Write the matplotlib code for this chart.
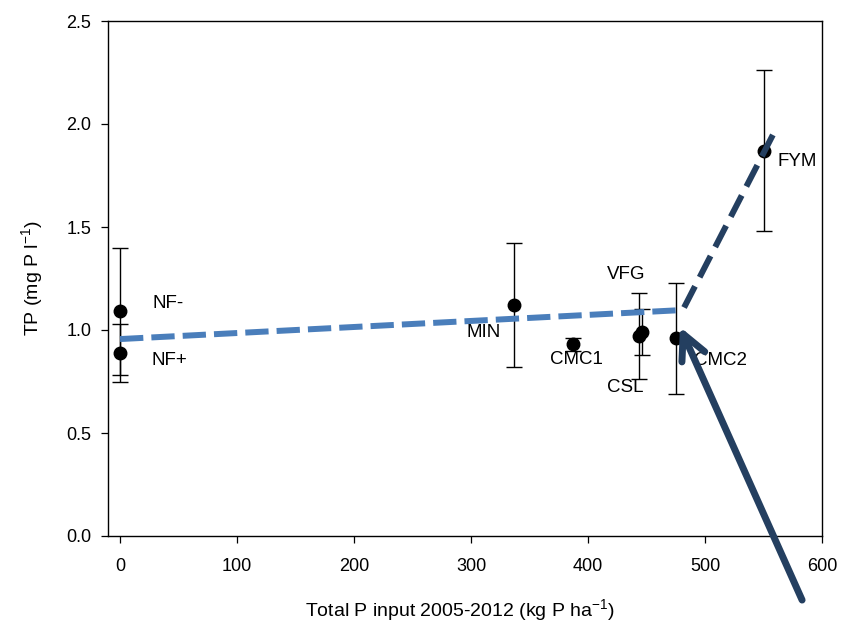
import matplotlib
matplotlib.use("Agg")
import matplotlib.pyplot as plt

plt.rcParams['font.family'] = ['Liberation Sans', 'DejaVu Sans']
plt.rcParams['mathtext.fontset'] = 'custom'
plt.rcParams['mathtext.rm'] = 'Liberation Sans'
plt.rcParams['mathtext.it'] = 'Liberation Sans:italic'
plt.rcParams['mathtext.bf'] = 'Liberation Sans:bold'

# Treatments: total P input (kg P/ha) vs mean TP concentration (mg P/l) with SD
treatments = ["NF-", "NF+", "MIN", "CMC1", "VFG", "CSL", "CMC2", "FYM"]
p_input = [0, 0, 337, 387, 446, 444, 475, 550]
tp_mean = [1.09, 0.89, 1.12, 0.93, 0.99, 0.97, 0.96, 1.87]
tp_err = [0.31, 0.14, 0.30, 0.03, 0.11, 0.21, 0.27, 0.39]

# Label anchor positions (data units) and alignment
label_x = [28, 27, 325, 390, 433, 432, 491, 562]
label_y = [1.13, 0.85, 0.99, 0.857, 1.267, 0.721, 0.854, 1.817]
label_ha = ["left", "left", "right", "center", "center", "center", "left", "left"]

# Broken-stick trend lines
trend_low_x = [0, 481]
trend_low_y = [0.956, 1.097]
trend_high_x = [558, 481]
trend_high_y = [1.947, 1.097]

# Arrow marking the change point
arrow_tip = (478.6, 1.015)
arrow_tail = (583, -0.311)

light_blue = "#4a7ebb"
navy = "#243f60"

fig = plt.figure(figsize=(8.41, 6.29), dpi=100)
ax = fig.add_axes([108 / 841, 1 - 536 / 629, 714 / 841, 515 / 629])

ax.errorbar(p_input, tp_mean, yerr=tp_err, fmt="o", color="black",
            markersize=9, elinewidth=1.0, capsize=5.5, capthick=1.0, zorder=3)

lw = 4.3
ax.plot(trend_low_x, trend_low_y, color=light_blue, lw=lw,
        dashes=(3.9, 1.35), zorder=4)
ax.plot(trend_high_x, trend_high_y, color=navy, lw=lw,
        dashes=(4.0, 1.7), zorder=4)

for name, lx, ly, ha in zip(treatments, label_x, label_y, label_ha):
    ax.text(lx, ly, name, ha=ha, va="center", fontsize=13.5, zorder=5)

ax.annotate("", xy=arrow_tip, xytext=arrow_tail, xycoords="data",
            textcoords="data", annotation_clip=False,
            arrowprops=dict(arrowstyle="->,head_length=18,head_width=9",
                            mutation_scale=1, lw=5, color=navy,
                            shrinkA=0, shrinkB=0), zorder=6)

ax.set_xlim(-10.3, 600)
ax.set_ylim(0, 2.5)
ax.set_xticks(range(0, 601, 100))
ax.set_yticks([0.0, 0.5, 1.0, 1.5, 2.0, 2.5])
ax.set_yticklabels([f"{v:.1f}" for v in [0.0, 0.5, 1.0, 1.5, 2.0, 2.5]])
ax.tick_params(direction="out", length=5, width=0.9, labelsize=13)
ax.tick_params(axis="x", pad=11)
ax.tick_params(axis="y", pad=7)
for s in ax.spines.values():
    s.set_linewidth(1.0)

fig.text(460 / 841, 1 - 610 / 629, "Total P input 2005-2012 (kg P ha$^{-1}$)",
         ha="center", va="center", fontsize=14)
fig.text(32 / 841, 1 - 278 / 629, "TP (mg P l$^{-1}$)", ha="center",
         va="center", rotation=90, fontsize=14)

fig.savefig("out.png", dpi=100)
